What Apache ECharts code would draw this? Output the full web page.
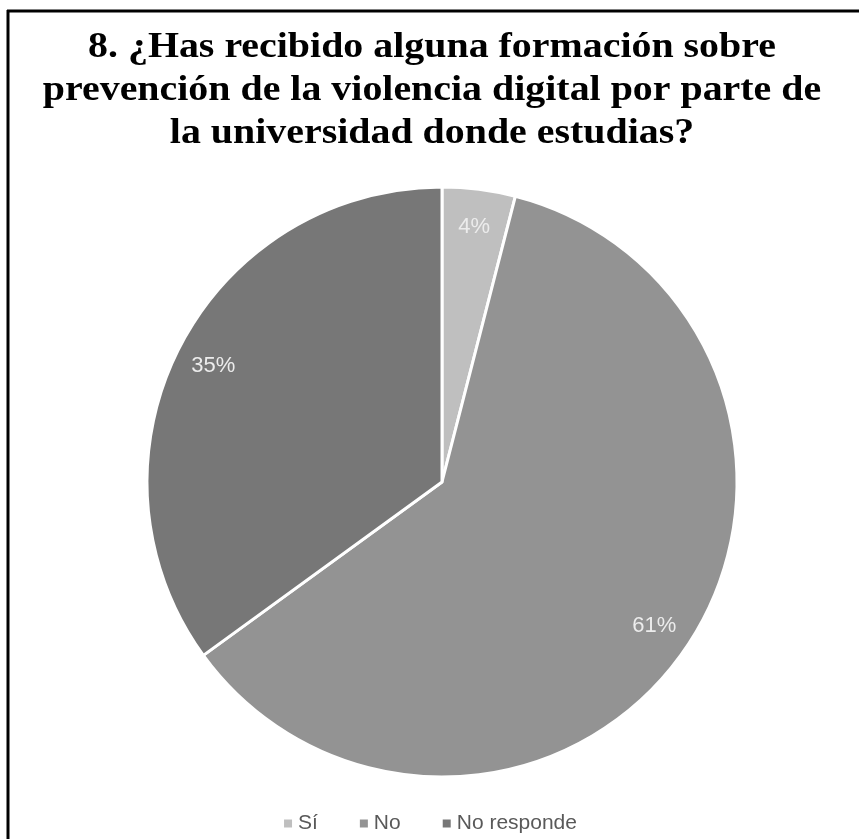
<!DOCTYPE html>
<html>
<head>
<meta charset="utf-8">
<script src="https://cdn.jsdelivr.net/npm/echarts@6/dist/echarts.min.js"></script>
<style>
  html, body { margin: 0; padding: 0; background: #ffffff; }
  #chart { width: 859px; height: 839px; }
</style>
</head>
<body>
<div id="chart"></div>
<script>
// Survey answers and their shares (percent)
const categories = ['Sí', 'No', 'No responde'];
const shares = [4, 61, 35];
const sliceColors = ['#bfbfbf', '#939393', '#777777'];

const titleText = '8. ¿Has recibido alguna formación sobre\nprevención de la violencia digital por parte de\nla universidad donde estudias?';

const pieData = categories.map((name, i) => ({
  name: name,
  value: shares[i],
  itemStyle: { color: sliceColors[i] }
}));

const center = [442, 482];
const outerR = 295;

const chart = echarts.init(document.getElementById('chart'), null, { renderer: 'canvas' });
chart.setOption({
  backgroundColor: '#ffffff',
  animation: false,
  legend: {
    bottom: 0,
    left: 'center',
    itemWidth: 10,
    itemHeight: 10,
    itemGap: 40,
    icon: 'rect',
    textStyle: {
      fontFamily: '"Liberation Sans", Arial, sans-serif',
      fontSize: 21,
      color: '#595959'
    },
    data: categories
  },
  graphic: [
    // frame: top and left edges
    { type: 'line', shape: { x1: 7, y1: 11, x2: 859, y2: 11 }, style: { stroke: '#000', lineWidth: 3 } },
    { type: 'line', shape: { x1: 8, y1: 10, x2: 8, y2: 839 }, style: { stroke: '#000', lineWidth: 3 } },
    // chart heading, set in a wide bold serif
    {
      type: 'text',
      x: 432,
      y: 26,
      scaleX: 1.14,
      style: {
        text: titleText,
        textAlign: 'center',
        textVerticalAlign: 'top',
        fontFamily: '"Liberation Serif", "Times New Roman", serif',
        fontWeight: 'bold',
        fontSize: 35,
        lineHeight: 43,
        fill: '#000000'
      }
    }
  ],
  series: [
    {
      type: 'pie',
      center: center,
      radius: [0, outerR],
      startAngle: 90,
      clockwise: true,
      data: pieData,
      itemStyle: { borderColor: '#ffffff', borderWidth: 3 },
      label: { show: false },
      labelLine: { show: false },
      silent: true
    },
    {
      // transparent ring used only to place the percentage labels near the rim
      type: 'pie',
      center: center,
      radius: [outerR * 0.72, outerR],
      startAngle: 90,
      clockwise: true,
      data: pieData.map(d => ({ name: d.name, value: d.value })),
      itemStyle: { color: 'rgba(0,0,0,0)', borderWidth: 0 },
      label: {
        show: true,
        position: 'inside',
        formatter: '{c}%',
        fontFamily: '"Liberation Sans", Arial, sans-serif',
        fontSize: 22,
        color: '#ececec'
      },
      labelLine: { show: false },
      silent: true,
      legendHoverLink: false
    }
  ]
});
</script>
</body>
</html>
